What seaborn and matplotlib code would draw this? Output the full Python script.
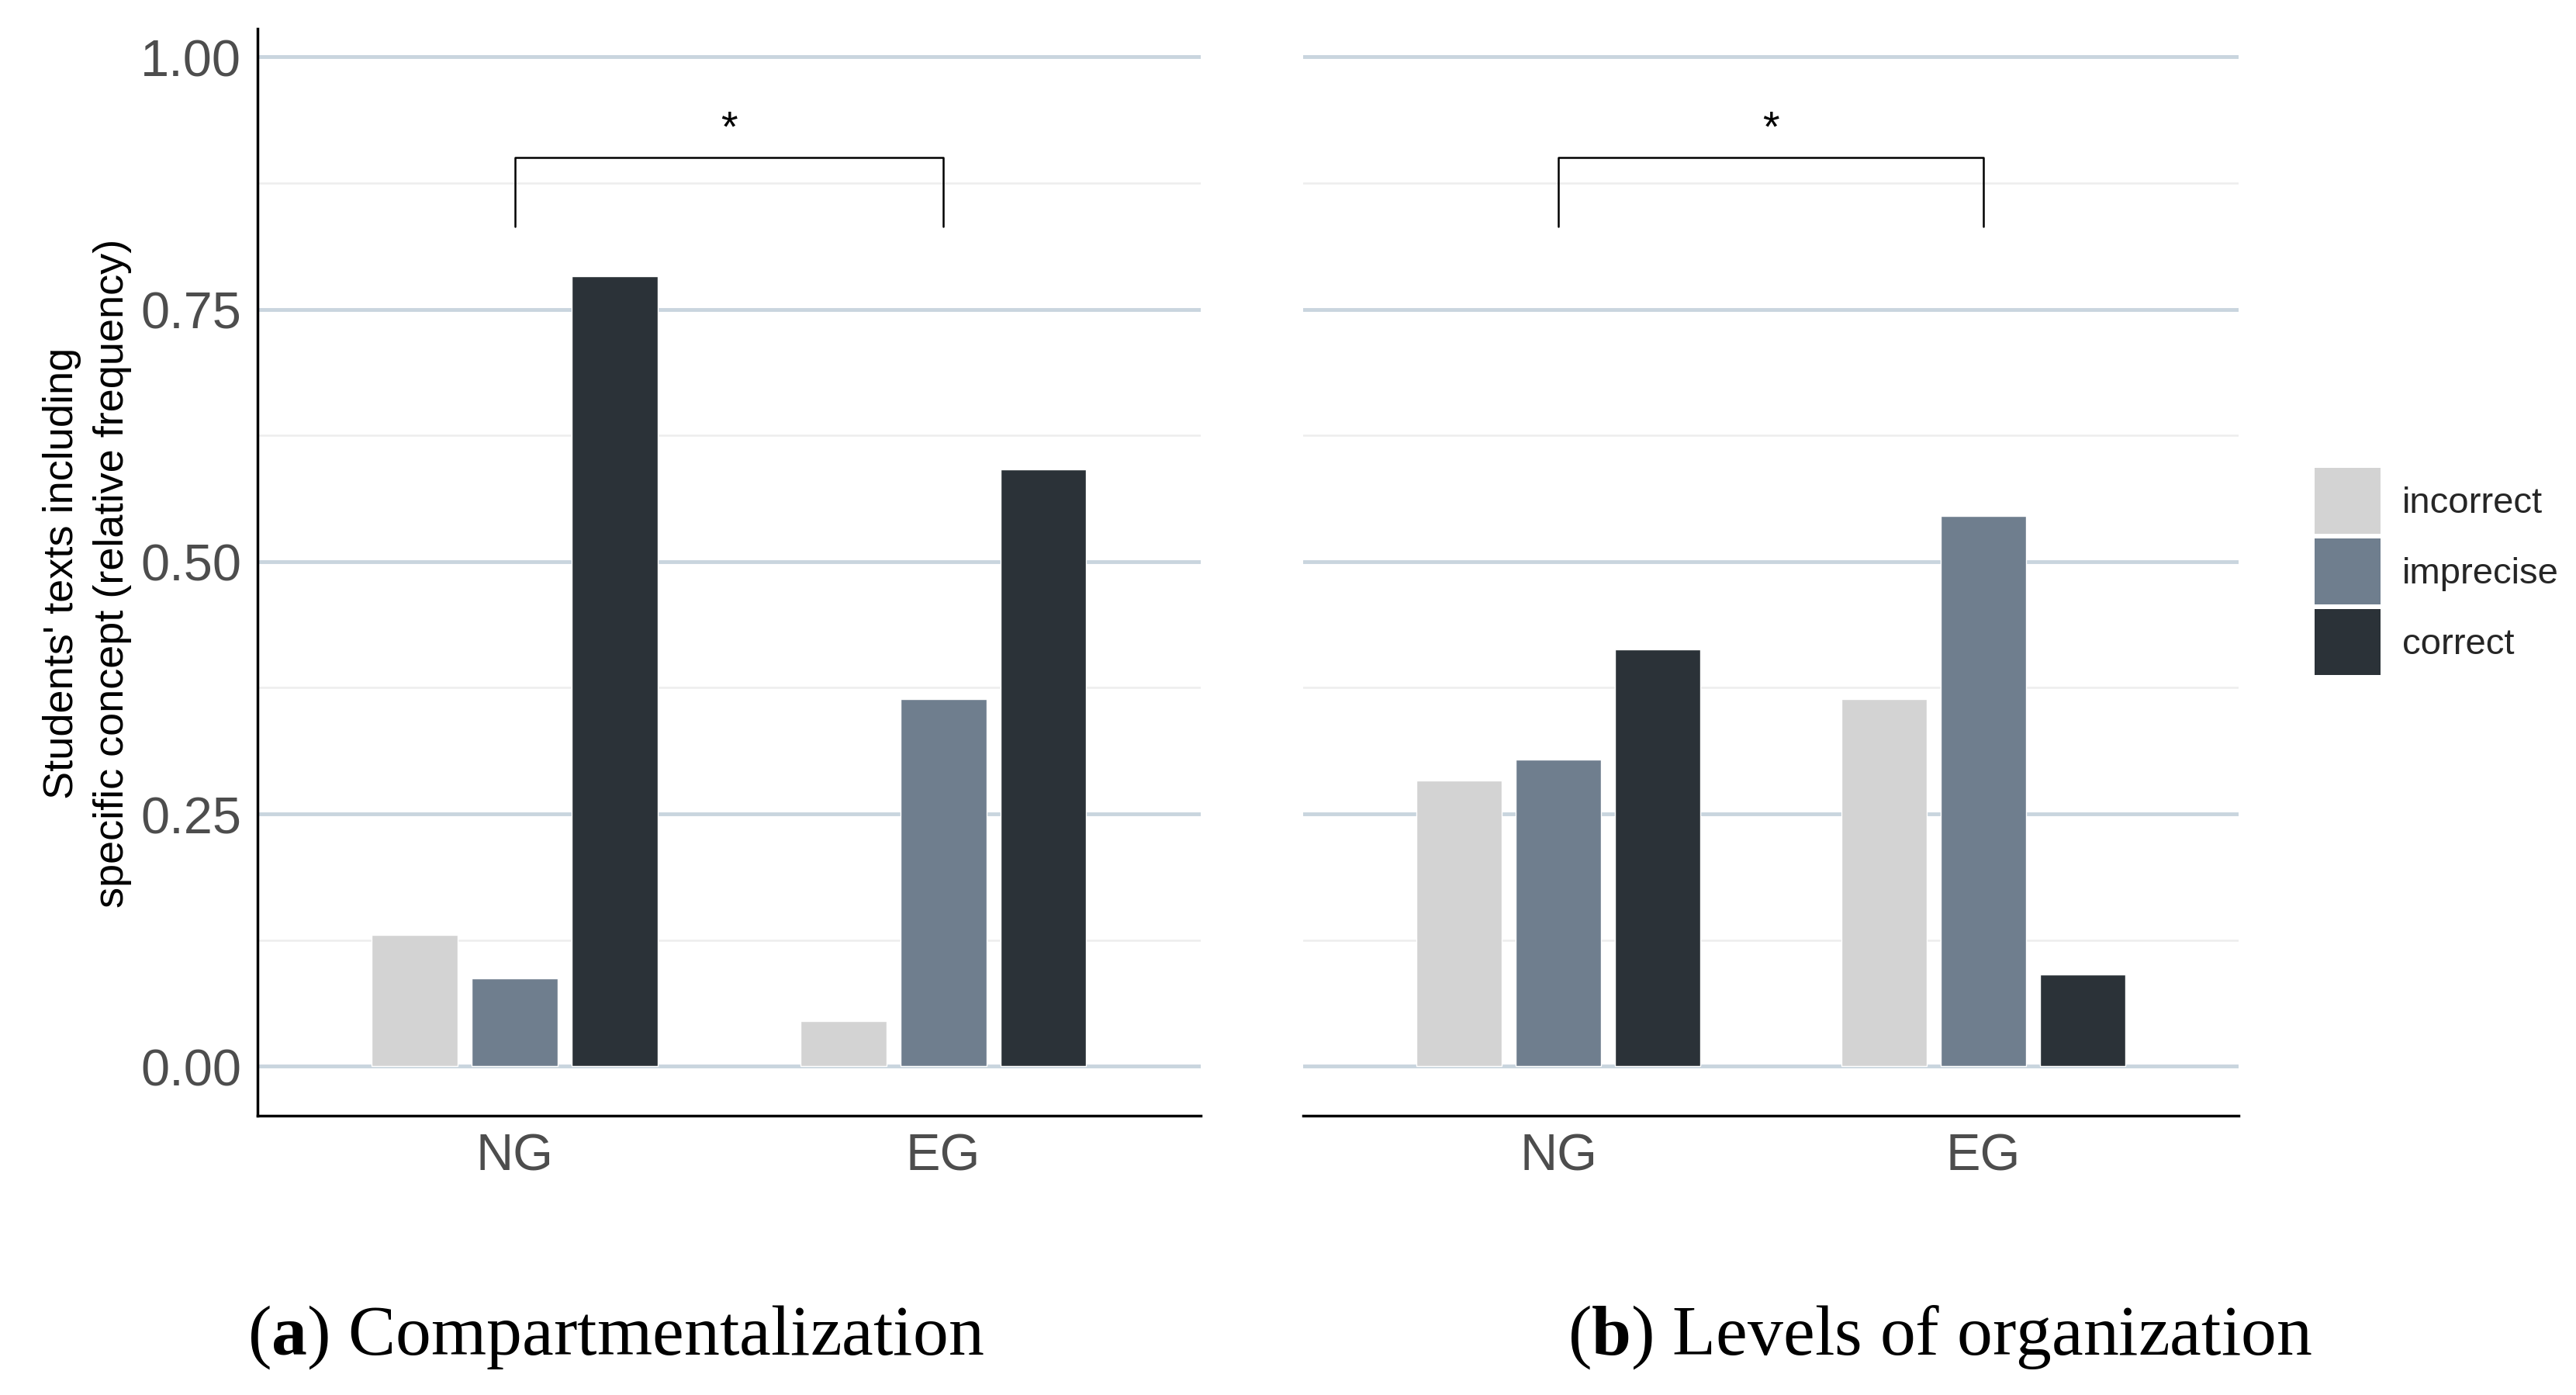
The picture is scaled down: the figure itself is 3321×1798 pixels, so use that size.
import numpy as np
import pandas as pd
import matplotlib
matplotlib.use("Agg")
import matplotlib.pyplot as plt
from matplotlib.ticker import MultipleLocator
from matplotlib.patches import Patch
import seaborn as sns

groups = ["NG", "EG"]
levels = ["incorrect", "imprecise", "correct"]
colors = ["#d3d3d3", "#6f7e8e", "#2b3238"]

# relative frequencies per group (incorrect, imprecise, correct)
compartment_ng = [0.130, 0.087, 0.783]
compartment_eg = [0.045, 0.364, 0.591]
levels_ng = [0.283, 0.304, 0.413]
levels_eg = [0.364, 0.545, 0.091]

captions = ["Compartmentalization", "Levels of organization"]
caption_tags = ["a", "b"]
bracket_y = 0.90
bracket_foot = 0.832
star_y = 0.908

def to_long(ng, eg):
    rows = []
    for g, vals in zip(groups, [ng, eg]):
        for lev, v in zip(levels, vals):
            rows.append({"group": g, "answer": lev, "freq": v})
    return pd.DataFrame(rows)

df_a = to_long(compartment_ng, compartment_eg)
df_b = to_long(levels_ng, levels_eg)

sns.set_style("white")
plt.rcParams["font.family"] = ["Liberation Sans", "DejaVu Sans"]
plt.rcParams["mathtext.fontset"] = "custom"
plt.rcParams["mathtext.rm"] = "Liberation Serif"
plt.rcParams["mathtext.bf"] = "Liberation Serif:bold"

fig = plt.figure(figsize=(33.21, 17.99), dpi=100)
ax_a = fig.add_axes([0.100, 0.200, 0.366, 0.779])
ax_b = fig.add_axes([0.506, 0.200, 0.363, 0.779])

for ax, df in [(ax_a, df_a), (ax_b, df_b)]:
    sns.barplot(data=df, x="group", y="freq", hue="answer", order=groups,
                hue_order=levels, palette=colors, width=0.7, gap=0.14,
                saturation=1, legend=False, ax=ax, zorder=3)
    ax.set_xlim(-0.6, 1.6)
    ax.set_ylim(-0.049, 1.028)
    ax.yaxis.set_major_locator(MultipleLocator(0.25))
    ax.yaxis.set_minor_locator(MultipleLocator(0.125))
    ax.grid(which="major", axis="y", color="#c9d5de", lw=3.5, zorder=0)
    ax.grid(which="minor", axis="y", color="#ededed", lw=1.8, zorder=0)
    ax.set_axisbelow(True)
    ax.set_xlabel("")
    ax.set_ylabel("")
    for s in ["top", "right"]:
        ax.spines[s].set_visible(False)
    ax.spines["bottom"].set_linewidth(2.5)
    ax.spines["bottom"].set_color("black")
    ax.tick_params(axis="x", length=9, width=2, color="#333333",
                   labelsize=48, labelcolor="#4d4d4d", pad=6)
    ax.tick_params(axis="y", which="minor", length=0)
    # significance bracket
    ax.plot([0, 0, 1, 1], [bracket_foot, bracket_y, bracket_y, bracket_foot],
            color="black", lw=1.8, zorder=4)
    ax.text(0.5, star_y, "*", ha="center", va="bottom", fontsize=40, color="black")

ax_a.spines["left"].set_linewidth(2.5)
ax_a.spines["left"].set_color("black")
ax_a.tick_params(axis="y", which="major", length=9, width=2, color="#333333",
                 labelsize=48, labelcolor="#4d4d4d", pad=6)
ax_a.set_yticklabels([f"{t:.2f}" for t in ax_a.get_yticks()])
ax_a.set_ylabel("Students' texts including\nspecific concept (relative frequency)",
                fontsize=39, color="black", labelpad=8, linespacing=1.4)

ax_b.spines["left"].set_visible(False)
ax_b.tick_params(axis="y", which="both", length=0, labelleft=False)

handles = [Patch(facecolor=c, edgecolor="none", label=l) for c, l in zip(colors, levels)]
fig.legend(handles=handles, loc="center left", bbox_to_anchor=(0.890, 0.59),
           frameon=False, fontsize=34, handlelength=1.8, handleheight=2.4,
           handletextpad=0.6, labelspacing=0.12, borderaxespad=0.2)

for tag, cap, xc in zip(caption_tags, captions, [0.239, 0.753]):
    fig.text(xc, 0.042, f"($\\mathbf{{{tag}}}$) {cap}", ha="center", va="center",
             fontsize=66, family="Liberation Serif", color="black")

fig.savefig("out.png", dpi=100, facecolor="white")
